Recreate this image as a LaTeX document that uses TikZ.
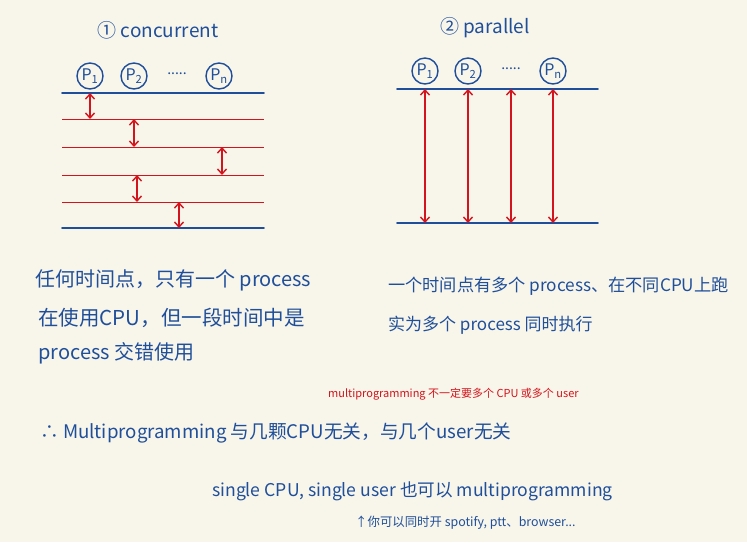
\documentclass[tikz,border=0pt]{standalone}
\usepackage{fontspec}
\setmainfont{Noto Sans CJK SC}
\usepackage{xcolor}
\usetikzlibrary{arrows.meta, positioning, calc}
\definecolor{ink}{HTML}{1F4F9A}
\definecolor{redink}{HTML}{D3141C}
\definecolor{paper}{HTML}{F8F5EA}
\newcommand{\fs}[1]{\fontsize{#1}{#1}\selectfont}

\begin{document}
\begin{tikzpicture}[x=1pt, y=-1pt,
    proc/.style={circle, draw=ink, line width=1.4pt, minimum size=26pt, inner sep=0pt, text=ink, font=\fs{16}},
    bar/.style={draw=ink, line width=1.7pt, line cap=round},
    slice/.style={draw=redink, line width=1pt},
    swap/.style={<->, draw=redink, line width=1.4pt, >={Straight Barb[length=5pt,width=9pt]}},
    title/.style={text=ink, font=\fs{19}},
    note/.style={text=ink, anchor=west, inner sep=0pt}
]
    % paper
    \fill[paper] (0,0) rectangle (747,542);
    \useasboundingbox (0,0) rectangle (747,542);

    % (1) concurrent: one process at a time
    \node[title] (ctitle) at (158,30) {① concurrent};
    \node[proc] (cp1) at (90,76) {P\textsubscript{1}};
    \node[proc] (cp2) at (134,76) {P\textsubscript{2}};
    \node[text=ink, font=\fs{14}] (cdots) at (177,74) {.....};
    \node[proc] (cpn) at (219,76) {P\textsubscript{n}};

    \foreach \y [count=\i from 0] in {93,119,147,175,202,228} {
        \coordinate (c\i w) at (62,\y);
        \coordinate (c\i e) at (264,\y);
    }
    \draw[bar] (c0w) -- (c0e);
    \foreach \i in {1,...,4}
        \draw[slice] (c\i w) -- (c\i e);
    \draw[bar] (c5w) -- (c5e);

    \draw[swap] (c0w -| cp1) -- (c1w -| cp1);
    \draw[swap] (c1w -| cp2) -- (c2w -| cp2);
    \draw[swap] ($(c2w -| cpn)+(3,0)$) -- ($(c3w -| cpn)+(3,0)$);
    \draw[swap] ($(c3w -| cp2)+(3,0)$) -- ($(c4w -| cp2)+(3,0)$);
    \draw[swap] ($(c4w -| cdots)+(2,0)$) -- ($(c5w -| cdots)+(2,0)$);

    % (2) parallel: every process on its own CPU
    \node[title] (ptitle) at (485,28) {② parallel};
    \node[proc] (pp1) at (425,71) {P\textsubscript{1}};
    \node[proc] (pp2) at (468,71) {P\textsubscript{2}};
    \node[text=ink, font=\fs{14}] (pdots) at (511,69) {.....};
    \node[proc] (ppn) at (553,71) {P\textsubscript{n}};

    \coordinate (ptopw) at (397,89);
    \coordinate (ptope) at (598,89);
    \coordinate (pbotw) at (397,223);
    \coordinate (pbote) at (598,223);
    \draw[bar] (ptopw) -- (ptope);
    \draw[bar] (pbotw) -- (pbote);
    \foreach \p in {pp1,pp2,pdots,ppn}
        \draw[swap] (ptopw -| \p) -- (pbotw -| \p);

    % notes
    \node[note, font=\fs{20}] (cnote1) at (35,280) {任何时间点，只有一个 process};
    \node[note, font=\fs{20.5}] (cnote2) at (38,318) {在使用CPU，但一段时间中是};
    \node[note, font=\fs{20}] (cnote3) at (38,353) {process 交错使用};

    \node[note, font=\fs{17.2}] (pnote1) at (388,286) {一个时间点有多个 process、在不同CPU上跑};
    \node[note, font=\fs{17}] (pnote2) at (388,325) {实为多个 process 同时执行};

    \node[note, text=redink, font=\fs{11}] (remark) at (328,394) {multiprogramming 不一定要多个 CPU 或多个 user};
    \node[note, font=\fs{18.7}] (hence) at (40,433) {∴ Multiprogramming 与几颗CPU无关，与几个user无关};
    \node[note, font=\fs{17.6}] (single) at (212,491) {single CPU, single user 也可以 multiprogramming};
    \node[note, font=\fs{12.4}] (example) at (355,523) {↑你可以同时开 spotify, ptt、browser...};
\end{tikzpicture}
\end{document}
